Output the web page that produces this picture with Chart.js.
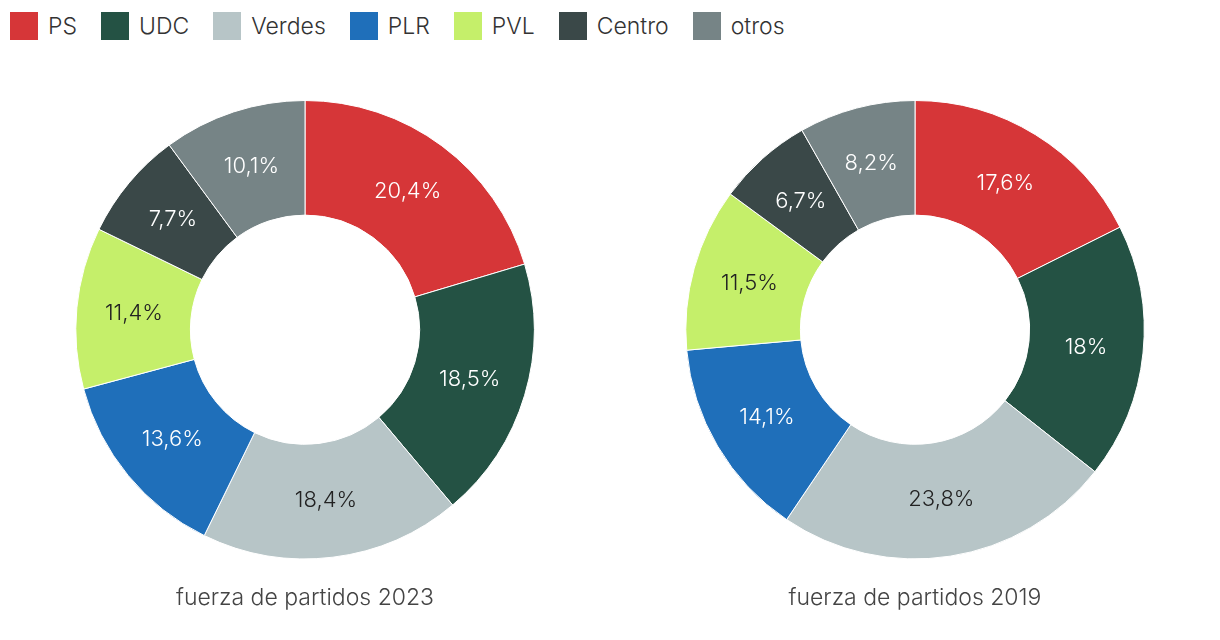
<!DOCTYPE html>
<html>
<head>
<meta charset="utf-8">
<script src="https://cdn.jsdelivr.net/npm/chart.js@4.4.1/dist/chart.umd.min.js"></script>
<style>
  body { margin: 0; background: #fff; font-family: Inter, sans-serif; font-weight: 300; }
  #legend { position: absolute; left: 10px; top: 12px; display: flex; align-items: center; }
  .item { display: flex; align-items: center; margin-right: 24px; font-size: 23px; color: #333; }
  .box { width: 28px; height: 28px; margin-right: 10px; }
  .wrap { position: absolute; top: 60px; width: 610px; height: 580px; }
</style>
</head>
<body>
<div id="legend"></div>
<div class="wrap" style="left:0"><canvas id="chart2023"></canvas></div>
<div class="wrap" style="left:610px"><canvas id="chart2019"></canvas></div>
<script>
const partidos = ["PS", "UDC", "Verdes", "PLR", "PVL", "Centro", "otros"];
const colores = ["#d63638", "#245244", "#b7c5c7", "#1f6fba", "#c5ef6a", "#3a4848", "#768486"];
const coloresTexto = ["#fff", "#fff", "#222", "#fff", "#222", "#fff", "#fff"];
const valores2023 = [20.4, 18.5, 18.4, 13.6, 11.4, 7.7, 10.1];
const valores2019 = [17.6, 18, 23.8, 14.1, 11.5, 6.7, 8.2];

//Leyenda
const legendDiv = document.getElementById("legend");
partidos.forEach((p, i) => {
  const item = document.createElement("div");
  item.className = "item";
  const box = document.createElement("div");
  box.className = "box";
  box.style.background = colores[i];
  const txt = document.createElement("span");
  txt.textContent = p;
  item.appendChild(box);
  item.appendChild(txt);
  legendDiv.appendChild(item);
});

//Etiquetas dentro de cada sector
const etiquetas = {
  id: "etiquetas",
  afterDatasetsDraw(chart) {
    const ctx = chart.ctx;
    const meta = chart.getDatasetMeta(0);
    const data = chart.data.datasets[0].data;
    ctx.save();
    ctx.font = "300 22px Inter";
    ctx.textAlign = "center";
    ctx.textBaseline = "middle";
    meta.data.forEach((arc, i) => {
      const pos = arc.tooltipPosition();
      ctx.fillStyle = coloresTexto[i];
      ctx.fillText(String(data[i]).replace(".", ",") + "%", pos.x, pos.y);
    });
    ctx.restore();
  },
};

const createDoughnut = (id, values, titulo) => {
  const ctx = document.getElementById(id).getContext("2d");
  return new Chart(ctx, {
    type: "doughnut",
    data: {
      labels: partidos,
      datasets: [
        {
          data: values,
          backgroundColor: colores,
          borderColor: "#fff",
          borderWidth: 1,
        },
      ],
    },
    options: {
      responsive: true,
      maintainAspectRatio: false,
      animation: false,
      cutout: "50%",
      layout: { padding: { top: 40, bottom: 24 } },
      plugins: {
        legend: { display: false },
        tooltip: { enabled: false },
        title: {
          display: true,
          position: "bottom",
          text: titulo,
          color: "#444",
          font: { family: "Inter", size: 23, weight: "300" },
          padding: { top: 25, bottom: 4 },
        },
      },
    },
    plugins: [etiquetas],
  });
};

createDoughnut("chart2023", valores2023, "fuerza de partidos 2023");
createDoughnut("chart2019", valores2019, "fuerza de partidos 2019");
</script>
</body>
</html>
